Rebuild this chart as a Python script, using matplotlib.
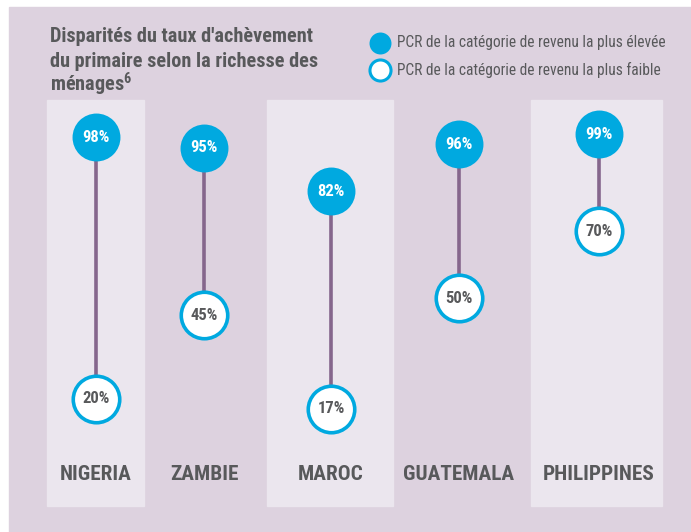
import matplotlib.pyplot as plt
from matplotlib.patches import Rectangle

# donnees
pays = ['NIGERIA', 'ZAMBIE', 'MAROC', 'GUATEMALA', 'PHILIPPINES']
pcr_eleve = [98, 95, 82, 96, 99]
pcr_faible = [20, 45, 17, 50, 70]
titre = ["Disparités du taux d'achèvement",
         "du primaire selon la richesse des",
         "ménages$^{6}$"]
leg_eleve = 'PCR de la catégorie de revenu la plus élevée'
leg_faible = 'PCR de la catégorie de revenu la plus faible'

# mise en page (pixels)
W, H = 691, 532
x_pos = [96, 204, 331, 459, 599]
panneaux = [(47, 144), (267, 393), (531, 662)]

bg = '#ddd2df'
panel_c = '#ebe6ee'
bleu = '#00a9e0'
violet = '#85668c'
gris = '#58595b'

plt.rcParams['font.family'] = ['Roboto Condensed', 'Roboto', 'DejaVu Sans']
plt.rcParams['mathtext.fontset'] = 'custom'
plt.rcParams['mathtext.rm'] = 'Roboto Condensed:bold'
plt.rcParams['mathtext.it'] = 'Roboto Condensed:bold'

fig = plt.figure(figsize=(W / 100, H / 100), dpi=100)
fig.patch.set_facecolor('white')

# axe de decor en pixels
deco = fig.add_axes([0, 0, 1, 1])
deco.set_xlim(0, W)
deco.set_ylim(H, 0)
deco.axis('off')
deco.add_patch(Rectangle((9, 7), W - 9, H - 7, color=bg, zorder=0))
for x0, x1 in panneaux:
    deco.add_patch(Rectangle((x0, 100), x1 - x0, 406, color=panel_c, zorder=1))

for ligne, yb in zip(titre, [42, 67, 92]):
    deco.text(50, yb, ligne, fontsize=14.6, fontweight='bold', color=gris,
              va='baseline', ha='left')

deco.scatter([380], [43], s=250, color=bleu, zorder=3, linewidths=0)
deco.scatter([380], [70], s=230, color='white', edgecolors=bleu, linewidths=2.2, zorder=3)
deco.text(397, 43, leg_eleve, fontsize=11.2, color=gris, va='center', ha='left')
deco.text(397, 70, leg_faible, fontsize=11.2, color=gris, va='center', ha='left')

for x, p in zip(x_pos, pays):
    deco.text(x, 474, p, fontsize=15.3, fontweight='bold', color=gris,
              ha='center', va='center')

# axe de donnees: y en pourcentage
ax = fig.add_axes([0, 0, 1, 1], facecolor='none')
ax.set_xlim(0, W)
ax.set_ylim(-19.73, 139.03)
ax.axis('off')

ax.vlines(x_pos, pcr_faible, pcr_eleve, color=violet, lw=2.6, zorder=2)
ax.scatter(x_pos, pcr_eleve, s=1190, color=bleu, zorder=3, linewidths=0)
ax.scatter(x_pos, pcr_faible, s=1120, color='white', edgecolors=bleu,
           linewidths=2.6, zorder=3)
for x, v in zip(x_pos, pcr_eleve):
    ax.text(x, v, f'{v}%', fontsize=12, fontweight='bold', color='white',
            ha='center', va='center', zorder=4)
for x, v in zip(x_pos, pcr_faible):
    ax.text(x, v, f'{v}%', fontsize=12, fontweight='bold', color=gris,
            ha='center', va='center', zorder=4)

fig.savefig('out.png', dpi=100, facecolor='white')
